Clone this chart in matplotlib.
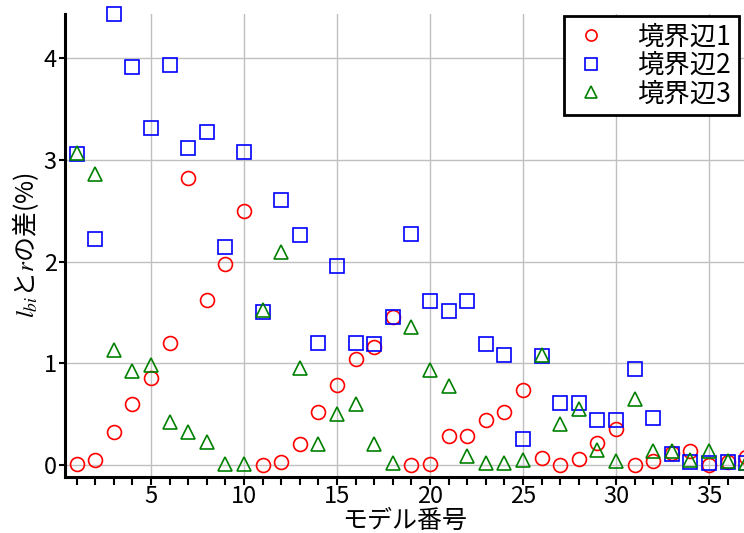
import matplotlib.pyplot as plt
from matplotlib.ticker import MultipleLocator

plt.rcParams['font.family'] = ['Noto Sans CJK JP', 'DejaVu Sans']
plt.rcParams['mathtext.fontset'] = 'stix'

# モデル番号
models = list(range(1, 38))

# 境界辺ごとの l_bi と r の差 (%)
edge1 = [0.01, 0.05, 0.32, 0.60, 0.86, 1.20, 2.82, 1.62, 1.98, 2.50,
         0.00, 0.03, 0.21, 0.52, 0.79, 1.04, 1.16, 1.46, 0.00, 0.01,
         0.29, 0.29, 0.44, 0.52, 0.74, 0.07, 0.00, 0.06, 0.22, 0.35,
         0.00, 0.04, 0.12, 0.14, 0.00, 0.03, 0.08]
edge2 = [3.06, 2.22, 4.43, 3.91, 3.31, 3.93, 3.12, 3.27, 2.14, 3.08,
         1.50, 2.61, 2.26, 1.20, 1.96, 1.20, 1.19, 1.46, 2.27, 1.61,
         1.51, 1.61, 1.19, 1.08, 0.26, 1.07, 0.61, 0.61, 0.44, 0.44,
         0.94, 0.46, 0.11, 0.03, 0.02, 0.03, 0.02]
edge3 = [3.07, 2.86, 1.13, 0.92, 0.98, 0.42, 0.32, 0.23, 0.01, 0.01,
         1.52, 2.09, 0.95, 0.21, 0.50, 0.60, 0.21, 0.02, 1.36, 0.93,
         0.78, 0.09, 0.02, 0.02, 0.05, 1.08, 0.40, 0.55, 0.15, 0.04,
         0.65, 0.14, 0.14, 0.05, 0.14, 0.04, 0.02]
labels = ['境界辺1', '境界辺2', '境界辺3']

fig = plt.figure(figsize=(7.44, 5.33), dpi=100)
ax = fig.add_axes([0.0874, 0.105, 0.9126, 0.869])

ax.plot(models, edge1, 'o', ms=10, mfc='none', mec='red', mew=1.2,
        label=labels[0], clip_on=False, zorder=3)
ax.plot(models, edge2, 's', ms=10.5, mfc='none', mec='blue', mew=1.2,
        label=labels[1], clip_on=False, zorder=3)
ax.plot(models, edge3, '^', ms=10, mfc='none', mec='green', mew=1.2,
        label=labels[2], clip_on=False, zorder=3)

ax.set_xlim(0.376, 36.88)
ax.set_ylim(-0.118, 4.435)

ax.xaxis.set_major_locator(MultipleLocator(5))
ax.xaxis.set_minor_locator(MultipleLocator(1))
ax.yaxis.set_major_locator(MultipleLocator(1))
ax.grid(True, which='major', color='#c0c0c0', lw=1)
ax.set_axisbelow(True)

for side in ['top', 'right']:
    ax.spines[side].set_visible(False)
for side in ['left', 'bottom']:
    ax.spines[side].set_linewidth(2.2)

ax.tick_params(axis='x', which='both', direction='out', length=6, width=1.5,
               labelsize=17, pad=0)
ax.tick_params(axis='y', which='major', direction='out', length=4, width=1.5,
               labelsize=17, pad=2)

ax.set_xlabel('モデル番号', fontsize=18, labelpad=0)
ax.set_ylabel('$l_{bi}$と$r$の差(%)', fontsize=18, labelpad=2)

leg = ax.legend(loc='upper right', fontsize=19, frameon=True, fancybox=False,
                edgecolor='black', framealpha=1, borderpad=0.3,
                handlelength=1.5, handletextpad=1.0, labelspacing=0.05,
                markerscale=0.8, borderaxespad=0,
                bbox_to_anchor=(0.993, 0.996))
leg.get_frame().set_linewidth(2)

fig.savefig('out.png', dpi=100)
